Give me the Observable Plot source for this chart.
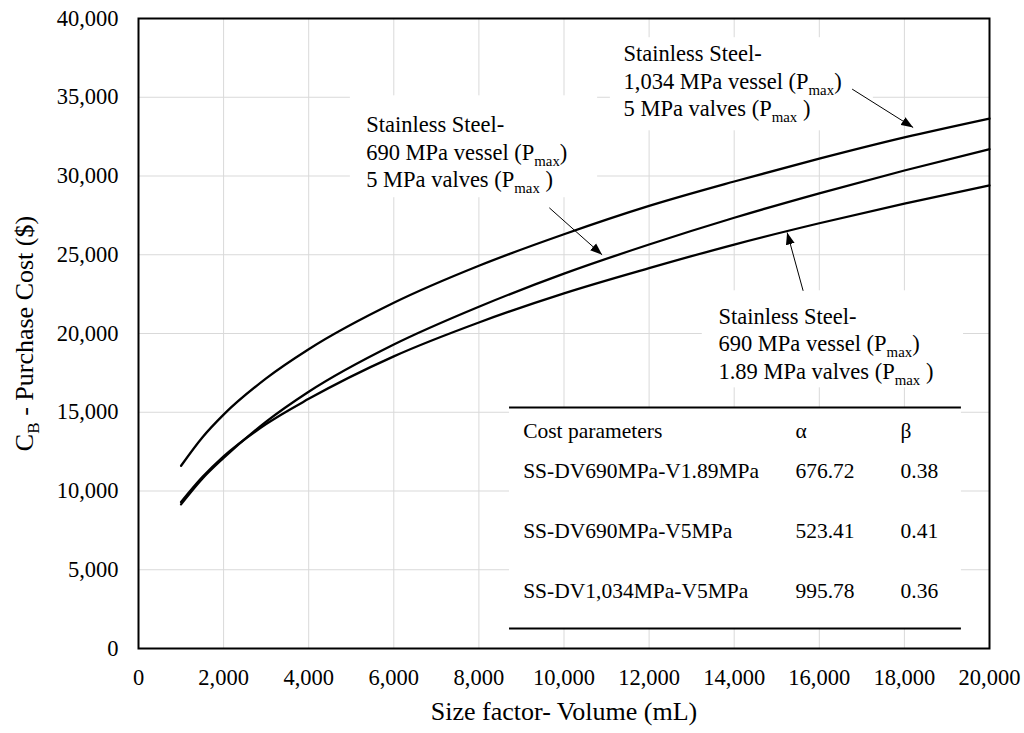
<!DOCTYPE html>
<html>
<head>
<meta charset="utf-8">
<script src="https://cdn.jsdelivr.net/npm/d3@7"></script>
<script src="https://cdn.jsdelivr.net/npm/@observablehq/plot@0.6"></script>
<style>
  html, body { margin: 0; padding: 0; background: #fff; font-family: "Liberation Serif", serif; }
  #chart { width: 1024px; height: 733px; }
  #chart svg, #chart svg text { font-family: "Liberation Serif", "Times New Roman", serif !important; }
</style>
</head>
<body>
<div id="chart"></div>
<script>
// ---------- data ----------
const volume = [1000, 1500, 2000, 3000, 4000, 6000, 8000, 10000, 12000, 14000, 16000, 18000, 20000];
const cost1034_5 = [11600, 13400, 14850, 17150, 19000, 21950, 24300, 26300, 28100, 29650, 31100, 32450, 33650];
const cost690_5 = [9150, 10780, 12100, 14400, 16300, 19300, 21700, 23800, 25650, 27350, 28900, 30350, 31700];
const cost690_189 = [9300, 10880, 12200, 14250, 15850, 18550, 20700, 22550, 24150, 25650, 27000, 28250, 29400];
const seriesNames = ["SS-DV1,034MPa-V5MPa", "SS-DV690MPa-V5MPa", "SS-DV690MPa-V1.89MPa"];

const xTicks = [0, 2000, 4000, 6000, 8000, 10000, 12000, 14000, 16000, 18000, 20000];
const yTicks = [0, 5000, 10000, 15000, 20000, 25000, 30000, 35000, 40000];

// table of cost parameters
const tableHeader = ["Cost parameters", "α", "β"];
const paramNames = ["SS-DV690MPa-V1.89MPa", "SS-DV690MPa-V5MPa", "SS-DV1,034MPa-V5MPa"];
const alphas = ["676.72", "523.41", "995.78"];
const betas = ["0.38", "0.41", "0.36"];
// table placement in data units
const tableColX = [9040, 15440, 17910];
const tableRowY = [13820, 11280, 7470, 3660];
const tableBoxX = [8720, 19340];
const tableBoxY = [1270, 15300];

// annotations (data units)
const noteTexts = [
  "Stainless Steel-\n1,034 MPa vessel (P_max)\n5 MPa valves (P_max )",
  "Stainless Steel-\n690 MPa vessel (P_max)\n5 MPa valves (P_max )",
  "Stainless Steel-\n690 MPa vessel (P_max)\n1.89 MPa valves (P_max )"
];
const noteX = [11400, 5350, 13630];
const noteY = [36100, 31600, 19430];
const noteBoxX1 = [11090, 4980, 13250];
const noteBoxX2 = [17270, 10790, 19390];
const noteBoxY1 = [32870, 28620, 16550];
const noteBoxY2 = [38780, 35090, 22710];
const arrowX1 = [16772, 9655, 15620];
const arrowY1 = [35517, 27980, 22711];
const arrowX2 = [18206, 10895, 15244];
const arrowY2 = [33079, 24997, 26413];

// ---------- build tables for the library ----------
const curves = [];
[cost1034_5, cost690_5, cost690_189].forEach((arr, k) => {
  arr.forEach((c, i) => curves.push({series: seriesNames[k], v: volume[i], c}));
});
const tableCells = [];
tableHeader.forEach((t, j) => tableCells.push({x: tableColX[j], y: tableRowY[0], t}));
paramNames.forEach((n, i) => {
  tableCells.push({x: tableColX[0], y: tableRowY[i + 1], t: n});
  tableCells.push({x: tableColX[1], y: tableRowY[i + 1], t: alphas[i]});
  tableCells.push({x: tableColX[2], y: tableRowY[i + 1], t: betas[i]});
});
const notes = noteTexts.map((t, i) => ({t, x: noteX[i], y: noteY[i]}));
const noteBoxes = noteX.map((_, i) => ({x1: noteBoxX1[i], x2: noteBoxX2[i], y1: noteBoxY1[i], y2: noteBoxY2[i]}));
const arrows = arrowX1.map((_, i) => ({x1: arrowX1[i], y1: arrowY1[i], x2: arrowX2[i], y2: arrowY2[i]}));

const FONT = "Liberation Serif";

function arrowHead(color, context) {
  const ns = "http://www.w3.org/2000/svg";
  const doc = (context && context.document) || document;
  const m = doc.createElementNS(ns, "marker");
  m.setAttribute("viewBox", "-12 -5 12 10");
  m.setAttribute("markerWidth", "12");
  m.setAttribute("markerHeight", "10");
  m.setAttribute("markerUnits", "userSpaceOnUse");
  m.setAttribute("orient", "auto");
  m.setAttribute("refX", "0");
  m.setAttribute("refY", "0");
  const p = doc.createElementNS(ns, "path");
  p.setAttribute("d", "M-12,-4.5L0,0L-12,4.5Z");
  p.setAttribute("fill", color || "black");
  p.setAttribute("stroke", "none");
  m.appendChild(p);
  return m;
}

function build(marker) {
  return Plot.plot({
    width: 1024,
    height: 733,
    marginLeft: 138,
    marginRight: 35,
    marginTop: 18,
    marginBottom: 85,
    style: {fontFamily: FONT, background: "white", color: "black"},
    x: {domain: [0, 20000], label: null},
    y: {domain: [0, 40000], label: null},
    marks: [
      Plot.gridX(xTicks, {stroke: "#d9d9d9", strokeOpacity: 1, strokeWidth: 1}),
      Plot.gridY(yTicks, {stroke: "#d9d9d9", strokeOpacity: 1, strokeWidth: 1}),
      Plot.rect(noteBoxes, {x1: "x1", x2: "x2", y1: "y1", y2: "y2", fill: "white"}),
      Plot.rect([{x1: tableBoxX[0], x2: tableBoxX[1], y1: tableBoxY[0], y2: tableBoxY[1]}], {x1: "x1", x2: "x2", y1: "y1", y2: "y2", fill: "white"}),
      Plot.line(curves, {x: "v", y: "c", z: "series", stroke: "black", strokeWidth: 2.3, curve: "monotone-x"}),
      Plot.ruleY(tableBoxY, {x1: tableBoxX[0], x2: tableBoxX[1], stroke: "black", strokeWidth: 2}),
      Plot.text(tableCells, {x: "x", y: "y", text: "t", textAnchor: "start", fontSize: 21.5, fontFamily: FONT, fill: "black"}),
      Plot.text(notes, {x: "x", y: "y", text: "t", textAnchor: "start", lineAnchor: "middle", lineHeight: 1.23, fontSize: 22.5, fontFamily: FONT, fill: "black"}),
      Plot.link(arrows, {x1: "x1", y1: "y1", x2: "x2", y2: "y2", stroke: "black", strokeWidth: 1, markerEnd: marker}),
      Plot.axisX(xTicks, {tickSize: 0, tickPadding: 21, fontSize: 22.5, fontFamily: FONT, tickFormat: d3.format(","), label: null}),
      Plot.axisY(yTicks, {tickSize: 0, tickPadding: 20, fontSize: 22.5, fontFamily: FONT, tickFormat: d3.format(","), label: null}),
      Plot.text(["Size factor- Volume (mL)"], {frameAnchor: "bottom", textAnchor: "middle", lineAnchor: "middle", dy: 63, fontSize: 26, fontFamily: FONT, fill: "black"}),
      Plot.text(["C_B - Purchase Cost ($)"], {frameAnchor: "left", textAnchor: "middle", lineAnchor: "middle", rotate: -90, dx: -114, fontSize: 26, fontFamily: FONT, fill: "black"}),
      Plot.frame({stroke: "black", strokeWidth: 2})
    ]
  });
}

let chart;
try { chart = build(arrowHead); } catch (e) { chart = build("arrow"); }
document.getElementById("chart").appendChild(chart);

// subscripts: "_max" and "_B"
const ns = "http://www.w3.org/2000/svg";
function subscriptify(el, token, sub) {
  const parts = el.textContent.split(token);
  el.textContent = "";
  parts.forEach((p, i) => {
    if (i > 0) {
      const s = document.createElementNS(ns, "tspan");
      s.setAttribute("dy", "6");
      s.setAttribute("font-size", "0.66em");
      s.textContent = sub;
      el.appendChild(s);
      const r = document.createElementNS(ns, "tspan");
      r.setAttribute("dy", "-6");
      r.textContent = p;
      el.appendChild(r);
    } else {
      el.appendChild(document.createTextNode(p));
    }
  });
}
chart.querySelectorAll("text, tspan").forEach(el => {
  if (el.childElementCount === 0) {
    if (el.textContent.includes("_max")) subscriptify(el, "_max", "max");
    else if (el.textContent.includes("C_B")) subscriptify(el, "_B", "B");
  }
});
</script>
</body>
</html>
